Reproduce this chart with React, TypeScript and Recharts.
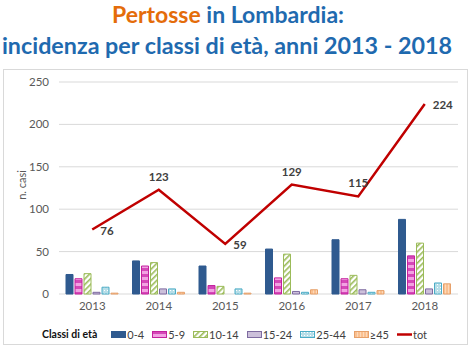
import { ComposedChart, Bar, Line, XAxis, YAxis, CartesianGrid, Legend, LabelList } from "recharts"

const anni = ["2013", "2014", "2015", "2016", "2017", "2018"]
const classi04 = [23, 39, 33, 53, 64, 88]
const classi59 = [18, 33, 10, 19, 18, 45]
const classi1014 = [24, 37, 9, 47, 22, 60]
const classi1524 = [2, 6, 0, 3, 5, 6]
const classi2544 = [8, 6, 6, 2, 2, 13]
const classi45 = [1, 2, 1, 5, 4, 12]
const totale = [76, 123, 59, 129, 115, 224]
const yTicks = [0, 50, 100, 150, 200, 250]

const data = anni.map((anno, i) => ({
  anno,
  c04: classi04[i],
  c59: classi59[i],
  c1014: classi1014[i],
  c1524: classi1524[i],
  c2544: classi2544[i],
  c45: classi45[i],
  tot: totale[i],
}))

const series = [
  { key: "c04", name: "0-4", fill: "#2F5A8F", stroke: "#2F5A8F" },
  { key: "c59", name: "5-9", fill: "url(#p59)", stroke: "#C4219E" },
  { key: "c1014", name: "10-14", fill: "url(#p1014)", stroke: "#9BBB59" },
  { key: "c1524", name: "15-24", fill: "#CCC0DA", stroke: "#7E6BA0" },
  { key: "c2544", name: "25-44", fill: "url(#p2544)", stroke: "#4BACC6" },
  { key: "c45", name: "≥45", fill: "url(#p45)", stroke: "#E6A06A" },
]

// where each total label sits relative to its point
const labelSide = ["right", "top", "right", "top", "top", "right"]

const font = "Lato, 'Noto Sans', sans-serif"

function TotLabel(props: any) {
  const { x, y, value, index } = props
  const side = labelSide[index]
  const tx = side === "right" ? x + 8 : x
  const ty = side === "right" ? y + 5 : y - 9
  return (
    <text x={tx} y={ty} textAnchor={side === "right" ? "start" : "middle"} fontSize={11.5} fontWeight={700} fill="#404040" fontFamily={font}>
      {value}
    </text>
  )
}

function LegendBox() {
  return (
    <div style={{ display: "flex", alignItems: "center", fontFamily: font, fontSize: 11, color: "#404040", height: 20 }}>
      <span style={{ fontWeight: 700, fontSize: 10.5, color: "#111", marginLeft: 38, marginRight: 14 }}>Classi di età</span>
      {series.map(s => (
        <span key={s.key} style={{ display: "flex", alignItems: "center", marginRight: 8 }}>
          <svg width={15} height={7} style={{ marginRight: 1 }}>
            <rect x={0.5} y={0.5} width={14} height={6} fill={s.fill} stroke={s.stroke} />
          </svg>
          {s.name}
        </span>
      ))}
      <span style={{ display: "flex", alignItems: "center" }}>
        <svg width={15} height={7} style={{ marginRight: 1 }}>
          <line x1={0} y1={3.5} x2={15} y2={3.5} stroke="#C00000" strokeWidth={2.5} />
        </svg>
        tot
      </span>
    </div>
  )
}

export default function App() {
  return (
    <div style={{ position: "absolute", left: 0, top: 0, width: 474, height: 353, background: "#fff" }}>
      <svg width={474} height={68} style={{ position: "absolute", left: 0, top: 0 }}>
        <text x={228} y={23} textAnchor="middle" fontFamily={font} fontWeight={700} fontSize={23}>
          <tspan fill="#E46C0A">Pertosse</tspan>
          <tspan fill="#1F6AAF"> in Lombardia:</tspan>
        </text>
        <text x={227} y={54} textAnchor="middle" fontFamily={font} fontWeight={700} fontSize={23.3} fill="#1F6AAF">
          incidenza per classi di età, anni 2013 - 2018
        </text>
      </svg>
      <div style={{ position: "absolute", left: 3, top: 69, width: 465, height: 276, border: "1px solid #D9D9D9", boxSizing: "border-box" }}>
        <ComposedChart width={465} height={276} data={data} margin={{ top: 12, right: 11, bottom: 2, left: 0 }} barSize={7} barGap={2}>
          <defs>
            <pattern id="p59" width="4" height="6" patternUnits="userSpaceOnUse">
              <rect width="4" height="6" fill="#F2A2E2" />
              <rect width="4" height="3" fill="#D548B8" />
            </pattern>
            <pattern id="p1014" width="4" height="4" patternUnits="userSpaceOnUse" patternTransform="rotate(45)">
              <rect width="4" height="4" fill="#FFFFFF" />
              <rect width="1.6" height="4" fill="#9BBB59" />
            </pattern>
            <pattern id="p2544" width="3" height="3" patternUnits="userSpaceOnUse">
              <rect width="3" height="3" fill="#B7DEE8" />
              <rect x="1" y="1" width="1" height="1" fill="#FFFFFF" />
            </pattern>
            <pattern id="p45" width="3" height="3" patternUnits="userSpaceOnUse">
              <rect width="3" height="3" fill="#FAC090" />
              <rect width="1" height="3" fill="#FCD9BA" />
            </pattern>
          </defs>
          <CartesianGrid vertical={false} stroke="#D9D9D9" />
          <XAxis dataKey="anno" axisLine={false} tickLine={false} tickSize={0} tickMargin={8} height={30}
            tick={{ fontSize: 11.5, fill: "#595959", fontFamily: font }} />
          <YAxis domain={[0, 250]} ticks={yTicks} axisLine={false} tickLine={false} tickSize={0} tickMargin={10} width={55}
            tick={{ fontSize: 11.5, fill: "#595959", fontFamily: font }} />
          <Legend verticalAlign="bottom" height={20} content={() => <LegendBox />} />
          {series.map(s => (
            <Bar key={s.key} dataKey={s.key} name={s.name} fill={s.fill} stroke={s.stroke} strokeWidth={1} isAnimationActive={false} />
          ))}
          <Line dataKey="tot" name="tot" stroke="#C00000" strokeWidth={2.5} dot={false} isAnimationActive={false}>
            <LabelList dataKey="tot" content={TotLabel} />
          </Line>
        </ComposedChart>
      </div>
      <svg width={30} height={80} style={{ position: "absolute", left: 6, top: 145 }}>
        <text x={15} y={40} transform="rotate(-90 15 40)" textAnchor="middle" dominantBaseline="central" fontSize={11} fill="#595959" fontFamily={font}>
          n. casi
        </text>
      </svg>
    </div>
  )
}
